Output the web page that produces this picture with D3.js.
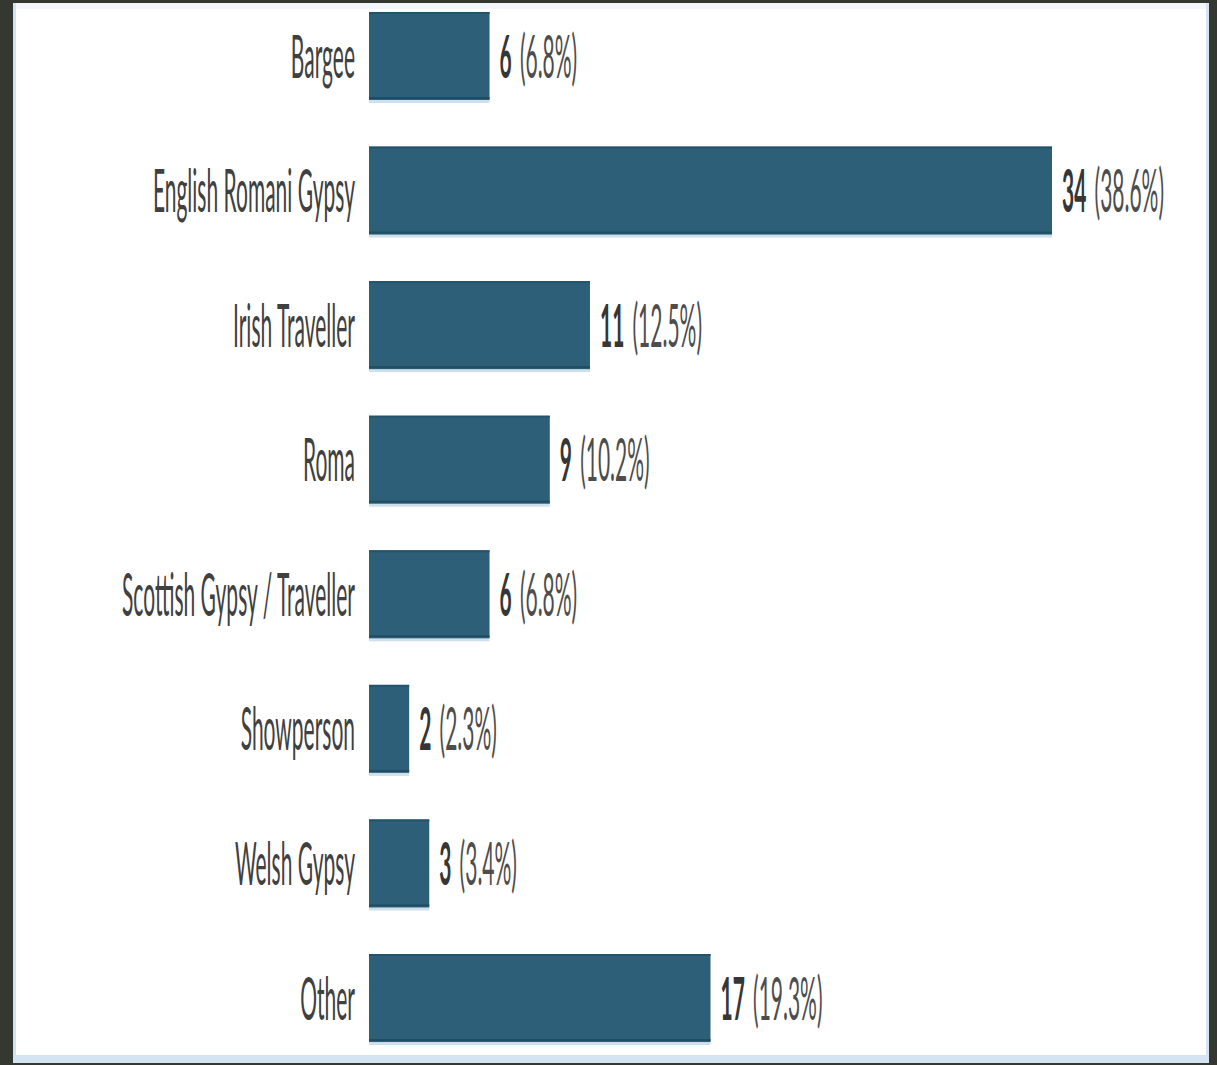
<!DOCTYPE html>
<html>
<head>
<meta charset="utf-8">
<script src="https://cdn.jsdelivr.net/npm/d3@7"></script>
<style>
  html, body { margin: 0; padding: 0; background: #353831; }
  svg { display: block; }
</style>
</head>
<body>
<svg id="chart" width="1217" height="1065"></svg>
<script>
// Respondent counts by Gypsy, Roma and Traveller group
const categories = ["Bargee", "English Romani Gypsy", "Irish Traveller", "Roma",
  "Scottish Gypsy / Traveller", "Showperson", "Welsh Gypsy", "Other"];
const counts = [6, 34, 11, 9, 6, 2, 3, 17];
const percents = ["6.8%", "38.6%", "12.5%", "10.2%", "6.8%", "2.3%", "3.4%", "19.3%"];

const W = 1217, H = 1065;
const svg = d3.select("#chart");

// frame and panel
svg.append("rect").attr("width", W).attr("height", H).attr("fill", "#353831");
svg.append("rect").attr("x", 13).attr("y", 3).attr("width", 1196).attr("height", 1060).attr("fill", "#d3e3f1");
svg.append("rect").attr("x", 16).attr("y", 3).attr("width", 1190).attr("height", 6).attr("fill", "#f3f7fb");
svg.append("rect").attr("x", 16).attr("y", 9).attr("width", 1190).attr("height", 1046).attr("fill", "#ffffff");

const x = d3.scaleLinear().domain([0, 34]).range([369, 1052]);
const y = d3.scaleBand().domain(categories).range([-11.3, 1065.3])
  .paddingInner(0.346).paddingOuter(0.173);

const data = categories.map((c, i) => ({ cat: c, n: counts[i], pct: percents[i] }));

const SX = 0.35;      // horizontal squeeze of the condensed lettering
const FS = 60;

const rows = svg.append("g").selectAll("g").data(data).join("g");

// soft shadow under each bar
rows.append("rect")
  .attr("x", x(0)).attr("y", d => y(d.cat) + y.bandwidth() - 1)
  .attr("width", d => x(d.n) - x(0)).attr("height", 4)
  .attr("fill", "#cfdfeb");

rows.append("rect")
  .attr("x", x(0)).attr("y", d => y(d.cat))
  .attr("width", d => x(d.n) - x(0)).attr("height", y.bandwidth())
  .attr("fill", "#2d6078");

// darker top and bottom edges
rows.append("rect")
  .attr("x", x(0)).attr("y", d => y(d.cat))
  .attr("width", d => x(d.n) - x(0)).attr("height", 2)
  .attr("fill", "#24546b");
rows.append("rect")
  .attr("x", x(0)).attr("y", d => y(d.cat) + y.bandwidth() - 3)
  .attr("width", d => x(d.n) - x(0)).attr("height", 2)
  .attr("fill", "#1f4d63");

// category labels
rows.append("text")
  .attr("transform", d => `translate(355,${y(d.cat) + y.bandwidth() / 2}) scale(${SX},1)`)
  .attr("text-anchor", "end").attr("dy", "0.36em")
  .attr("font-family", "Lato, sans-serif").attr("font-size", FS)
  .attr("fill", "#404040")
  .text(d => d.cat);

// value labels: count, then share in brackets
const vl = rows.append("text")
  .attr("transform", d => `translate(${x(d.n) + 10},${y(d.cat) + y.bandwidth() / 2}) scale(${SX},1)`)
  .attr("dy", "0.36em")
  .attr("font-family", "Lato, sans-serif").attr("font-size", FS);
vl.append("tspan").attr("font-weight", 700).attr("fill", "#363636").text(d => d.n);
vl.append("tspan").attr("fill", "#4d4d4d").attr("dx", 8).text(d => `\u00a0(${d.pct})`);
</script>
</body>
</html>
